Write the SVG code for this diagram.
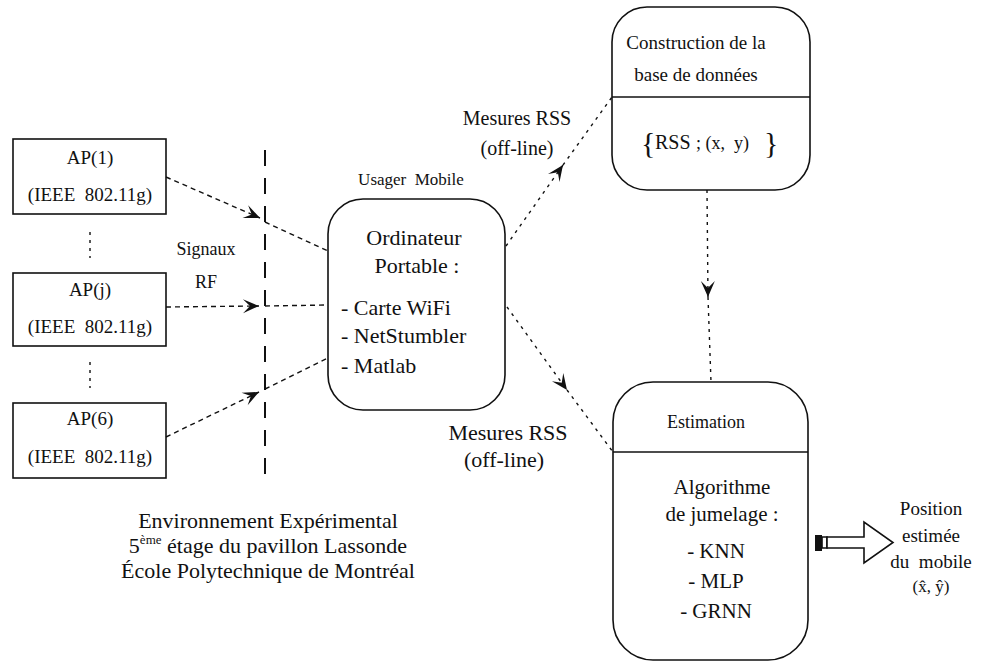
<svg xmlns="http://www.w3.org/2000/svg" width="987" height="662" viewBox="0 0 987 662">
  <style>
    .t { font-family: "Liberation Serif", "Times New Roman", serif; fill: #111; }
    .box { fill: #fff; stroke: #111; stroke-width: 1.6; }
    .sep { stroke: #111; stroke-width: 1.6; }
    .dash { fill: none; stroke: #111; stroke-width: 1.4; stroke-dasharray: 5 4; }
    .dot { fill: none; stroke: #111; stroke-width: 1.4; stroke-dasharray: 3 5; }
    .wall { fill: none; stroke: #111; stroke-width: 2; stroke-dasharray: 16 12; }
  </style>
  <defs>
    <marker id="ah" viewBox="-17 -8 18 16" refX="0" refY="0" markerWidth="18" markerHeight="16" markerUnits="userSpaceOnUse" orient="auto">
      <path d="M0,0 L-16,-7 L-9,0 L-16,7 Z" fill="#111"/>
    </marker>
  </defs>
  <rect width="987" height="662" fill="#fff"/>

  <!-- access points -->
  <g id="ap1">
    <rect class="box" x="13" y="139" width="153" height="75"/>
    <text class="t" x="90" y="164" font-size="19" text-anchor="middle">AP(1)</text>
    <text class="t" x="90" y="201" font-size="19" text-anchor="middle" xml:space="preserve">(IEEE  802.11g)</text>
  </g>
  <g id="apj">
    <rect class="box" x="13" y="273" width="153" height="73"/>
    <text class="t" x="90" y="296" font-size="19" text-anchor="middle">AP(j)</text>
    <text class="t" x="90" y="333" font-size="19" text-anchor="middle" xml:space="preserve">(IEEE  802.11g)</text>
  </g>
  <g id="ap6">
    <rect class="box" x="13" y="403" width="153" height="75"/>
    <text class="t" x="90" y="425" font-size="19" text-anchor="middle">AP(6)</text>
    <text class="t" x="90" y="463" font-size="19" text-anchor="middle" xml:space="preserve">(IEEE  802.11g)</text>
  </g>
  <g id="ap-ellipsis">
    <line class="dot" x1="90" y1="232" x2="90" y2="258"/>
    <line class="dot" x1="90" y1="362" x2="90" y2="388"/>
  </g>

  <!-- boundary of the test environment -->
  <g id="wall">
    <line class="wall" x1="265" y1="150" x2="265" y2="480"/>
    <text class="t" x="206" y="255" font-size="18" text-anchor="middle">Signaux</text>
    <text class="t" x="206" y="288" font-size="18" text-anchor="middle">RF</text>
  </g>

  <!-- mobile user laptop -->
  <g id="laptop">
    <text class="t" x="411" y="185" font-size="17" text-anchor="middle" xml:space="preserve">Usager  Mobile</text>
    <rect class="box" x="328" y="199" width="177" height="211" rx="35"/>
    <text class="t" x="414" y="245" font-size="22" text-anchor="middle">Ordinateur</text>
    <text class="t" x="417" y="273" font-size="22" text-anchor="middle">Portable :</text>
    <text class="t" x="341" y="315" font-size="22">- Carte WiFi</text>
    <text class="t" x="341" y="343" font-size="22">- NetStumbler</text>
    <text class="t" x="341" y="373" font-size="22">- Matlab</text>
  </g>

  <!-- database construction -->
  <g id="database">
    <rect class="box" x="612" y="7" width="198" height="183" rx="35"/>
    <line class="sep" x1="612" y1="97" x2="810" y2="97"/>
    <text class="t" x="696" y="49" font-size="19" text-anchor="middle">Construction de la</text>
    <text class="t" x="696" y="81" font-size="19" text-anchor="middle">base de données</text>
    <text class="t" x="641" y="153" font-size="30">{</text>
    <text class="t" x="655" y="149" font-size="20">RSS</text>
    <text class="t" x="696" y="149" font-size="18" xml:space="preserve">; (x,  y)</text>
    <text class="t" x="764" y="153" font-size="30">}</text>
  </g>

  <!-- estimation -->
  <g id="estimation">
    <rect class="box" x="613" y="382" width="195" height="278" rx="40"/>
    <line class="sep" x1="613" y1="452" x2="808" y2="452"/>
    <text class="t" x="706" y="428" font-size="18" text-anchor="middle">Estimation</text>
    <text class="t" x="722" y="494" font-size="21" text-anchor="middle">Algorithme</text>
    <text class="t" x="722" y="521" font-size="21" text-anchor="middle">de jumelage  :</text>
    <text class="t" x="716" y="558" font-size="21" text-anchor="middle">- KNN</text>
    <text class="t" x="716" y="588" font-size="21" text-anchor="middle">- MLP</text>
    <text class="t" x="716" y="618" font-size="21" text-anchor="middle">- GRNN</text>
  </g>

  <!-- estimated position output -->
  <g id="output">
    <rect x="815" y="535" width="7" height="16" fill="#111"/>
    <polygon class="box" points="822,537 827,537 827,548 822,548"/>
    <polygon class="box" points="827,537 864,537 864,522 893,542.5 864,563 864,548 827,548"/>
    <text class="t" x="931" y="515" font-size="19" text-anchor="middle">Position</text>
    <text class="t" x="931" y="542" font-size="19" text-anchor="middle">estimée</text>
    <text class="t" x="931" y="568" font-size="19" text-anchor="middle" xml:space="preserve">du  mobile</text>
    <text class="t" x="931" y="592" font-size="17" text-anchor="middle">(x&#x302;, &#x177;)</text>
  </g>

  <!-- environment caption -->
  <g id="caption">
    <text class="t" x="268" y="528" font-size="22" text-anchor="middle">Environnement Expérimental</text>
    <text class="t" x="268" y="553" font-size="22" text-anchor="middle">5<tspan font-size="13" dy="-9">ème</tspan><tspan dy="9"> étage du pavillon Lassonde</tspan></text>
    <text class="t" x="268" y="578" font-size="22" text-anchor="middle">École Polytechnique de Montréal</text>
  </g>

  <!-- connectors -->
  <g id="connectors">
    <line class="dash" x1="166" y1="177" x2="260" y2="218" marker-end="url(#ah)"/>
    <line class="dash" x1="265" y1="222" x2="328" y2="251"/>
    <line class="dash" x1="166" y1="307" x2="259" y2="306" marker-end="url(#ah)"/>
    <line class="dash" x1="265" y1="306" x2="328" y2="305"/>
    <line class="dash" x1="166" y1="437" x2="259" y2="392" marker-end="url(#ah)"/>
    <line class="dash" x1="265" y1="389" x2="328" y2="358"/>

    <line class="dot" x1="506" y1="246" x2="563" y2="165" marker-end="url(#ah)"/>
    <line class="dot" x1="563" y1="165" x2="612" y2="97"/>
    <text class="t" x="517" y="125" font-size="20" text-anchor="middle">Mesures RSS</text>
    <text class="t" x="517" y="155" font-size="20" text-anchor="middle">(off-line)</text>

    <line class="dot" x1="507" y1="307" x2="567" y2="390" marker-end="url(#ah)"/>
    <line class="dot" x1="567" y1="390" x2="613" y2="452"/>
    <text class="t" x="508" y="440" font-size="22" text-anchor="middle">Mesures RSS</text>
    <text class="t" x="504" y="467" font-size="22" text-anchor="middle">(off-line)</text>

    <line class="dot" x1="707" y1="190" x2="708" y2="297" marker-end="url(#ah)"/>
    <line class="dot" x1="708" y1="297" x2="711" y2="382"/>
  </g>
</svg>
